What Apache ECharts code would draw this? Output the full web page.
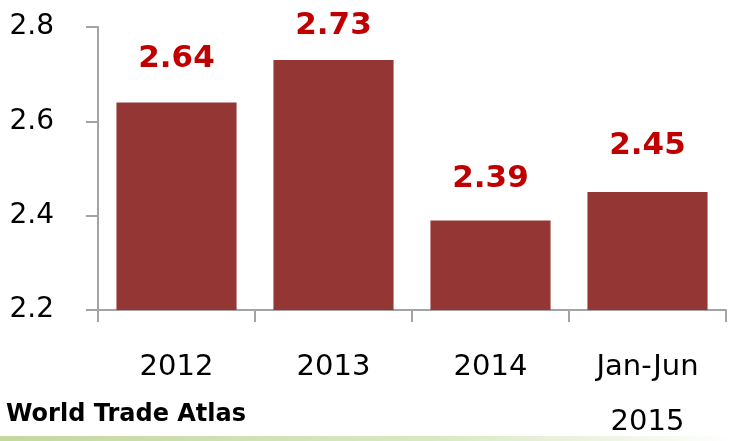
<!DOCTYPE html>
<html>
<head>
<meta charset="utf-8">
<script src="https://cdn.jsdelivr.net/npm/echarts@6/dist/echarts.min.js"></script>
<style>
  html, body { margin: 0; padding: 0; background: #ffffff; }
  #chart { width: 730px; height: 441px; }
</style>
</head>
<body>
<div id="chart"></div>
<script>
// Yearly values (one decimal place of precision on the axis)
const categories = ['2012', '2013', '2014', 'Jan-Jun\n2015'];
const values = [2.64, 2.73, 2.39, 2.45];
const yTicks = { min: 2.2, max: 2.8, step: 0.2 };
const sourceNote = 'World Trade Atlas';

// Label offsets above each bar (px), hand-tuned for legibility
const labelOffsets = [28, 19, 26, 31];

const axisGrey = '#a3a3a3';
const barColor = '#943634';
const labelRed = '#c00000';

const chart = echarts.init(document.getElementById('chart'), null, { renderer: 'canvas' });

chart.setOption({
  animation: false,
  backgroundColor: '#ffffff',
  grid: { left: 98, right: 4, top: 27, bottom: 131, containLabel: false, outerBoundsMode: 'none' },
  xAxis: {
    type: 'category',
    data: categories,
    axisLine: { show: true, lineStyle: { color: axisGrey, width: 2 } },
    axisTick: { show: true, length: 12, lineStyle: { color: axisGrey, width: 2 } },
    axisLabel: {
      margin: 30,
      color: '#000000',
      fontFamily: 'DejaVu Sans',
      fontSize: 29,
      lineHeight: 55,
      interval: 0
    }
  },
  yAxis: {
    type: 'value',
    min: yTicks.min,
    max: yTicks.max,
    interval: yTicks.step,
    splitLine: { show: false },
    axisLine: { show: true, lineStyle: { color: axisGrey, width: 2 } },
    axisTick: { show: true, length: 12, lineStyle: { color: axisGrey, width: 2 } },
    axisLabel: {
      margin: 44,
      color: '#000000',
      fontFamily: 'DejaVu Sans',
      fontSize: 28,
      formatter: v => v.toFixed(1)
    }
  },
  series: [{
    type: 'bar',
    data: values.map((v, i) => ({ value: v, label: { distance: labelOffsets[i] } })),
    barCategoryGap: '23.5%',
    itemStyle: { color: barColor },
    label: {
      show: true,
      position: 'top',
      color: labelRed,
      fontFamily: 'DejaVu Sans',
      fontWeight: 'bold',
      fontSize: 31,
      formatter: p => p.value.toFixed(2)
    }
  }],
  graphic: [
    {
      type: 'text',
      left: 6,
      top: 403,
      style: {
        text: sourceNote,
        fill: '#000000',
        font: 'bold 24px "DejaVu Sans"'
      }
    },
    {
      type: 'rect',
      left: 0,
      top: 436,
      shape: { x: 0, y: 0, width: 730, height: 5 },
      style: {
        fill: new echarts.graphic.LinearGradient(0, 0, 1, 0, [
          { offset: 0, color: '#c4d89e' },
          { offset: 0.6, color: '#dbe8c4' },
          { offset: 0.88, color: '#f2f7ea' },
          { offset: 1, color: '#ffffff' }
        ])
      },
      silent: true
    }
  ]
});
</script>
</body>
</html>
